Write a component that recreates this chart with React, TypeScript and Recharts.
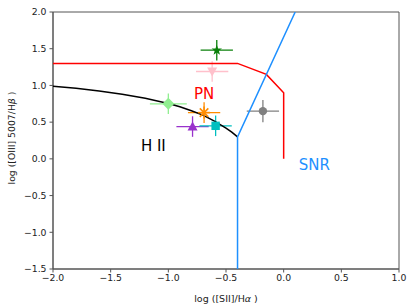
import React from 'react';
import { ScatterChart, Scatter, XAxis, YAxis, ErrorBar, ReferenceDot, ReferenceArea } from 'recharts';

// Demarcation curves
const hiiX = [-2.0, -1.8, -1.6, -1.4, -1.2, -1.0, -0.9, -0.8, -0.7, -0.6, -0.5, -0.45, -0.4];
const hiiY = [0.99, 0.96, 0.925, 0.88, 0.825, 0.755, 0.71, 0.655, 0.595, 0.515, 0.42, 0.365, 0.30];
const pnX = [-2.0, -0.4, -0.15, 0.0, 0.0];
const pnY = [1.3, 1.3, 1.15, 0.9, 0.0];
const snrX = [-0.4, -0.4, 0.1];
const snrY = [-1.5, 0.3, 2.0];

// Objects
const objX = [-0.58, -0.62, -1.0, -0.69, -0.79, -0.59, -0.18];
const objY = [1.48, 1.19, 0.75, 0.63, 0.44, 0.45, 0.65];
const objErrX = [0.14, 0.14, 0.16, 0.14, 0.14, 0.14, 0.14];
const objErrY = [0.14, 0.14, 0.14, 0.14, 0.14, 0.14, 0.15];

// Region labels
const regionNames = ['PN', 'H II', 'SNR'];
const regionX = [-0.69, -1.13, 0.265];
const regionY = [0.89, 0.175, -0.085];

const xTicks = [-2.0, -1.5, -1.0, -0.5, 0.0, 0.5, 1.0];
const yTicks = [-1.5, -1.0, -0.5, 0.0, 0.5, 1.0, 1.5, 2.0];

const FONT = '"DejaVu Sans", sans-serif';
const objColors = ['#0a800a', '#ffc0cb', '#90ee90', '#ff8c00', '#9932cc', '#00bfbf', '#808080'];
const objShapes = ['star', 'tridown', 'diamond', 'asterisk', 'triup', 'square', 'circle'];
const regionColors = ['#ff0000', '#000000', '#1e90ff'];

const toPts = (xs: number[], ys: number[]) => xs.map((x, i) => ({ x, y: ys[i] }));

const fmt = (v: number) => {
  const s = v.toFixed(1);
  return s.startsWith('-') ? '\u2212' + s.slice(1) : s;
};

const none = () => <g />;

function makeShape(kind: string, color: string) {
  return (p: any) => {
    const { cx, cy } = p;
    if (cx == null || cy == null) return <g />;
    switch (kind) {
      case 'star': {
        const pts: string[] = [];
        for (let i = 0; i < 10; i++) {
          const r = i % 2 === 0 ? 5.5 : 2.2;
          const a = -Math.PI / 2 + (i * Math.PI) / 5;
          pts.push(`${cx + r * Math.cos(a)},${cy + r * Math.sin(a)}`);
        }
        return <polygon points={pts.join(' ')} fill={color} />;
      }
      case 'tridown':
        return <polygon points={`${cx - 5},${cy - 4} ${cx + 5},${cy - 4} ${cx},${cy + 5}`} fill={color} />;
      case 'triup':
        return <polygon points={`${cx - 5},${cy + 4} ${cx + 5},${cy + 4} ${cx},${cy - 5}`} fill={color} />;
      case 'diamond':
        return <polygon points={`${cx},${cy - 6} ${cx + 6},${cy} ${cx},${cy + 6} ${cx - 6},${cy}`} fill={color} />;
      case 'square':
        return <rect x={cx - 4.2} y={cy - 4.2} width={8.4} height={8.4} fill={color} />;
      case 'circle':
        return <circle cx={cx} cy={cy} r={4.2} fill={color} />;
      case 'asterisk': {
        const r = 6;
        const lines = [0, 45, 90, 135].map((d) => {
          const a = (d * Math.PI) / 180;
          return (
            <line key={d} x1={cx - r * Math.cos(a)} y1={cy - r * Math.sin(a)} x2={cx + r * Math.cos(a)} y2={cy + r * Math.sin(a)} stroke={color} strokeWidth={1.6} />
          );
        });
        return <g>{lines}</g>;
      }
      default:
        return <g />;
    }
  };
}

export default function App() {
  const tickStyle = { fontSize: 9.3, fontFamily: FONT, fill: '#222' };
  return (
    <div style={{ position: 'absolute', left: 0, top: 0, width: 415, height: 308, background: '#fff' }}>
      <ScatterChart width={415} height={308} margin={{ top: 12, right: 16, bottom: 9, left: 13 }}>
        <XAxis
          type="number"
          dataKey="x"
          domain={[-2, 1]}
          ticks={xTicks}
          tickFormatter={fmt}
          allowDataOverflow
          height={30}
          tickSize={3.5}
          tickMargin={2}
          stroke="#555"
          tick={tickStyle}
          label={{
            content: () => (
              <text x={226} y={298} textAnchor="middle" dominantBaseline="central" fontSize={9.5} fontFamily={FONT} fill="#222">
                log ([SII]/H<tspan fontStyle="italic">α</tspan> )
              </text>
            ),
          }}
        />
        <YAxis
          type="number"
          dataKey="y"
          domain={[-1.5, 2]}
          ticks={yTicks}
          tickFormatter={fmt}
          allowDataOverflow
          width={40}
          tickSize={3.5}
          tickMargin={3}
          stroke="#555"
          tick={tickStyle}
          label={{
            content: () => (
              <text x={11} y={138} transform="rotate(-90 11 138)" textAnchor="middle" dominantBaseline="central" fontSize={9.3} fontFamily={FONT} fill="#222">
                log ([OIII] 5007/H<tspan fontStyle="italic">β</tspan> )
              </text>
            ),
          }}
        />
        <ReferenceArea x1={-2} x2={1} y1={-1.5} y2={2} fill="none" stroke="#555" strokeWidth={1} ifOverflow="visible" />
        <Scatter data={toPts(hiiX, hiiY)} line={{ stroke: '#000', strokeWidth: 1.5 }} lineType="joint" shape={none} isAnimationActive={false} />
        <Scatter data={toPts(pnX, pnY)} line={{ stroke: '#ff0000', strokeWidth: 1.5 }} lineType="joint" shape={none} isAnimationActive={false} />
        <Scatter data={toPts(snrX, snrY)} line={{ stroke: '#1e90ff', strokeWidth: 1.5 }} lineType="joint" shape={none} isAnimationActive={false} />
        {objX.map((x, i) => (
          <Scatter
            key={i}
            data={[{ x, y: objY[i], ex: objErrX[i], ey: objErrY[i] }]}
            shape={makeShape(objShapes[i], objColors[i])}
            fill={objColors[i]}
            isAnimationActive={false}
          >
            <ErrorBar dataKey="ex" direction="x" width={0} stroke={objColors[i]} strokeWidth={1.3} isAnimationActive={false} />
            <ErrorBar dataKey="ey" direction="y" width={0} stroke={objColors[i]} strokeWidth={1.3} isAnimationActive={false} />
          </Scatter>
        ))}
        {regionNames.map((name, i) => (
          <ReferenceDot
            key={name}
            x={regionX[i]}
            y={regionY[i]}
            r={0}
            shape={(p: any) => (
              <text x={p.cx} y={p.cy} textAnchor="middle" dominantBaseline="central" fontSize={15} fontFamily={FONT} fill={regionColors[i]}>
                {name}
              </text>
            )}
          />
        ))}
      </ScatterChart>
    </div>
  );
}
